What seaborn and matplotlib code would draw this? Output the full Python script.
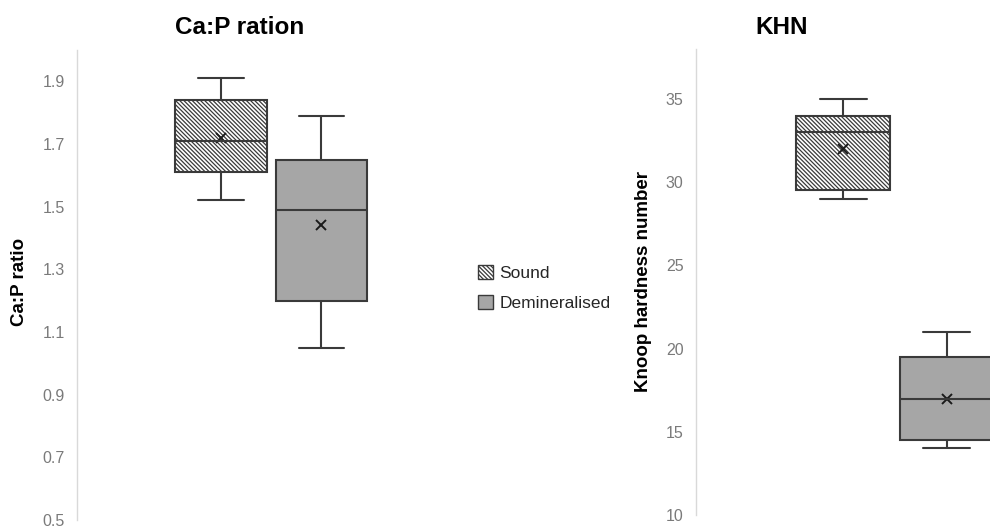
import matplotlib.pyplot as plt
import matplotlib.patches as mpatches
import numpy as np
import pandas as pd
import seaborn as sns

groups = ['Sound', 'Demineralised']

# five number summaries: min, q1, median, q3, max
cap_sound = [1.52, 1.61, 1.71, 1.84, 1.91]
cap_demin = [1.05, 1.20, 1.49, 1.65, 1.79]
cap_means = [1.72, 1.44]
cap_ticks = [0.5, 0.7, 0.9, 1.1, 1.3, 1.5, 1.7, 1.9]

khn_sound = [29.0, 29.5, 33.0, 34.0, 35.0]
khn_demin = [14.0, 14.5, 17.0, 19.5, 21.0]
khn_means = [32.0, 17.0]
khn_ticks = [10, 15, 20, 25, 30, 35]

edge = '#3a3a3a'
demin_grey = '#a6a6a6'
sound_hatch = '\\' * 8

sns.set_theme(style='white')
plt.rcParams['font.family'] = ['Liberation Sans', 'DejaVu Sans']
plt.rcParams['hatch.linewidth'] = 0.9


def long_frame(sound, demin):
    return pd.DataFrame({
        'group': ['Sound'] * len(sound) + ['Demineralised'] * len(demin),
        'value': sound + demin,
        'panel': 'all',
    })


def draw_panel(ax, sound, demin, means, ticks, ylim):
    df = long_frame(sound, demin)
    sns.boxplot(data=df, x='panel', y='value', hue='group', hue_order=groups,
                whis=(0, 100), width=0.8, gap=0.09, showfliers=False,
                palette=['white', demin_grey], linecolor=edge, linewidth=1.5,
                legend=False, ax=ax)

    # hatching like the excel fill patterns
    boxes = [p for p in ax.patches]
    boxes[0].set_hatch(sound_hatch)
    over = mpatches.PathPatch(boxes[1].get_path(), transform=boxes[1].get_transform(),
                              facecolor='none', edgecolor='#8a8a8a', hatch='xxxxxxxx', lw=0)
    ax.add_patch(over)

    mf = pd.DataFrame({'group': groups, 'value': means, 'panel': 'all'})
    sns.pointplot(data=mf, x='panel', y='value', hue='group', hue_order=groups,
                  dodge=0.4, markers='x', linestyles='none', errorbar=None,
                  palette=['#1a1a1a', '#1a1a1a'], markersize=7, markeredgewidth=1.4,
                  legend=False, ax=ax)

    ax.set_xlim(-0.77, 0.77)
    ax.set_ylim(*ylim)
    ax.set_yticks(ticks)
    ax.set_xticks([])
    ax.set_xlabel('')
    ax.set_ylabel('')
    ax.tick_params(axis='y', length=0, pad=9, labelsize=11.5, labelcolor='#7a7a7a')
    for s in ['top', 'right', 'bottom']:
        ax.spines[s].set_visible(False)
    ax.spines['left'].set_color('#d9d9d9')
    ax.spines['left'].set_linewidth(1.0)
    ax.patch.set_alpha(0)


fig = plt.figure(figsize=(9.9, 5.28), dpi=100)
ax1 = fig.add_axes([0.0778, 0.0152, 0.392, 0.8902])
ax2 = fig.add_axes([0.7030, 0.0246, 0.402, 0.8826])

draw_panel(ax1, cap_sound, cap_demin, cap_means, cap_ticks, (0.5, 2.0))
draw_panel(ax2, khn_sound, khn_demin, khn_means, khn_ticks, (10, 38))

fig.text(240 / 990, 1 - 27 / 528, 'Ca:P ration', ha='center', va='center',
         fontsize=17.5, fontweight='bold', color='black')
fig.text(782 / 990, 1 - 27 / 528, 'KHN', ha='center', va='center',
         fontsize=17.5, fontweight='bold', color='black')
fig.text(20 / 990, 1 - 282 / 528, 'Ca:P ratio', rotation=90, ha='center', va='center',
         fontsize=13.5, fontweight='bold', color='black')
fig.text(643 / 990, 1 - 281 / 528, 'Knoop hardness number', rotation=90,
         ha='center', va='center', fontsize=13.5, fontweight='bold', color='black')

handles = [
    mpatches.Patch(facecolor='white', edgecolor=edge, hatch=sound_hatch, label='Sound'),
    mpatches.Patch(facecolor=demin_grey, edgecolor=edge, label='Demineralised'),
]
fig.legend(handles=handles, loc='center left', bbox_to_anchor=(462 / 990, 1 - 288 / 528),
           frameon=False, fontsize=12.5, handlelength=0.9, handleheight=0.9,
           handletextpad=0.35, labelspacing=0.8, labelcolor='#262626')

fig.savefig('out.png', dpi=100)
